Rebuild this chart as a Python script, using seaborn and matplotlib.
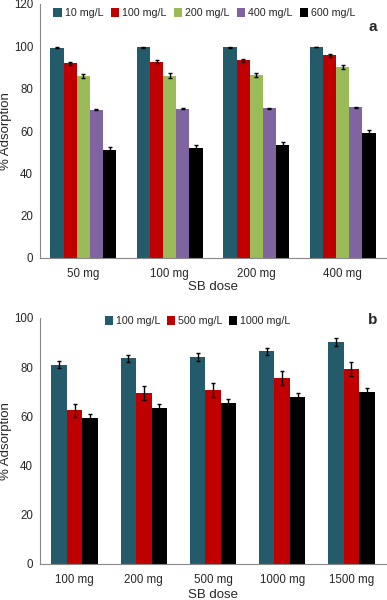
import numpy as np
import pandas as pd
import seaborn as sns
import matplotlib
matplotlib.use("Agg")
import matplotlib.pyplot as plt

# panel a: SB dose vs initial concentration
doses_a = ["50 mg", "100 mg", "200 mg", "400 mg"]
conc_a = ["10 mg/L", "100 mg/L", "200 mg/L", "400 mg/L", "600 mg/L"]
ads_a = [
    [99.3, 99.5, 99.5, 99.7],
    [92.0, 92.8, 93.4, 95.8],
    [86.0, 86.2, 86.6, 90.2],
    [70.1, 70.5, 70.7, 71.3],
    [51.0, 52.0, 53.2, 59.0],
]
err_a = [
    [0.2, 0.2, 0.2, 0.2],
    [0.8, 0.8, 0.8, 0.8],
    [1.0, 1.0, 1.0, 1.0],
    [0.3, 0.3, 0.3, 0.2],
    [1.5, 1.6, 1.6, 1.6],
]
colors_a = ["#245b6b", "#c00000", "#9bbb59", "#8064a2", "#000000"]

# panel b
doses_b = ["100 mg", "200 mg", "500 mg", "1000 mg", "1500 mg"]
conc_b = ["100 mg/L", "500 mg/L", "1000 mg/L"]
ads_b = [
    [81.0, 83.6, 84.2, 86.4, 90.2],
    [62.4, 69.5, 70.6, 75.6, 79.3],
    [59.3, 63.3, 65.4, 67.8, 69.9],
]
err_b = [
    [1.5, 1.5, 1.5, 1.5, 1.5],
    [2.8, 2.8, 2.8, 2.8, 2.8],
    [1.7, 1.7, 1.7, 1.7, 1.7],
]
colors_b = ["#245b6b", "#c00000", "#000000"]


def to_frame(doses, concs, vals, errs):
    rows = []
    for i, c in enumerate(concs):
        for j, d in enumerate(doses):
            rows.append({"dose": d, "conc": c, "ads": vals[i][j], "err": errs[i][j]})
    return pd.DataFrame(rows)


def draw(ax, doses, concs, vals, errs, colors, ymax, width, letter, leg_anchor, letter_y, colsp, xpad):
    df = to_frame(doses, concs, vals, errs)
    sns.barplot(data=df, x="dose", y="ads", hue="conc", order=doses, hue_order=concs,
                palette=colors, errorbar=None, width=width, saturation=1,
                edgecolor="none", ax=ax)
    bars = list(ax.containers)
    for i, cont in enumerate(bars):
        xs = [p.get_x() + p.get_width() / 2 for p in cont.patches]
        hs = [p.get_height() for p in cont.patches]
        ax.errorbar(xs, hs, yerr=errs[i], fmt="none", ecolor="black",
                    elinewidth=1.0, capsize=1.6, capthick=1.0)
    ax.set_ylim(0, ymax)
    ax.set_xlim(-0.5, len(doses) - 0.5)
    ax.set_yticks(np.arange(0, ymax + 1, 20))
    ax.set_xticks(np.arange(-0.5, len(doses)), minor=True)
    ax.tick_params(axis="x", which="major", length=0, pad=7, labelsize=8.3)
    ax.tick_params(axis="x", which="minor", length=3, width=0.8, color="#888888")
    ax.tick_params(axis="y", length=3, width=0.8, color="#888888", labelsize=8.3, pad=2)
    for s in ["top", "right"]:
        ax.spines[s].set_visible(False)
    for s in ["left", "bottom"]:
        ax.spines[s].set_color("#888888")
        ax.spines[s].set_linewidth(0.8)
    ax.set_xlabel("SB dose", fontsize=9.5, labelpad=xpad)
    ax.set_ylabel("% Adsorption", fontsize=9.5, labelpad=1)
    ax.text(0.975, letter_y, letter, transform=ax.transAxes,
            ha="right", va="center", fontsize=11, fontweight="bold")
    ax.legend(loc="upper center", bbox_to_anchor=leg_anchor,
              ncol=len(concs), frameon=False, fontsize=7.7,
              handlelength=0.8, handleheight=0.8, handletextpad=0.25,
              columnspacing=colsp, borderaxespad=0)


sns.set_style("white")
plt.rcParams["font.family"] = ["Liberation Sans", "DejaVu Sans"]

fig = plt.figure(figsize=(3.87, 6.0), dpi=100)
ax1 = fig.add_axes([40 / 387, 1 - 258 / 600, 346 / 387, 254 / 600])
ax2 = fig.add_axes([40 / 387, 1 - 564 / 600, 346 / 387, 246 / 600])

draw(ax1, doses_a, conc_a, ads_a, err_a, colors_a, 120, 0.76, "a", (0.475, 1.0), 0.91, 0.7, 1)
draw(ax2, doses_b, conc_b, ads_b, err_b, colors_b, 100, 0.67, "b", (0.455, 1.025), 0.99, 0.6, 2.5)

fig.savefig("out.png", dpi=100)
